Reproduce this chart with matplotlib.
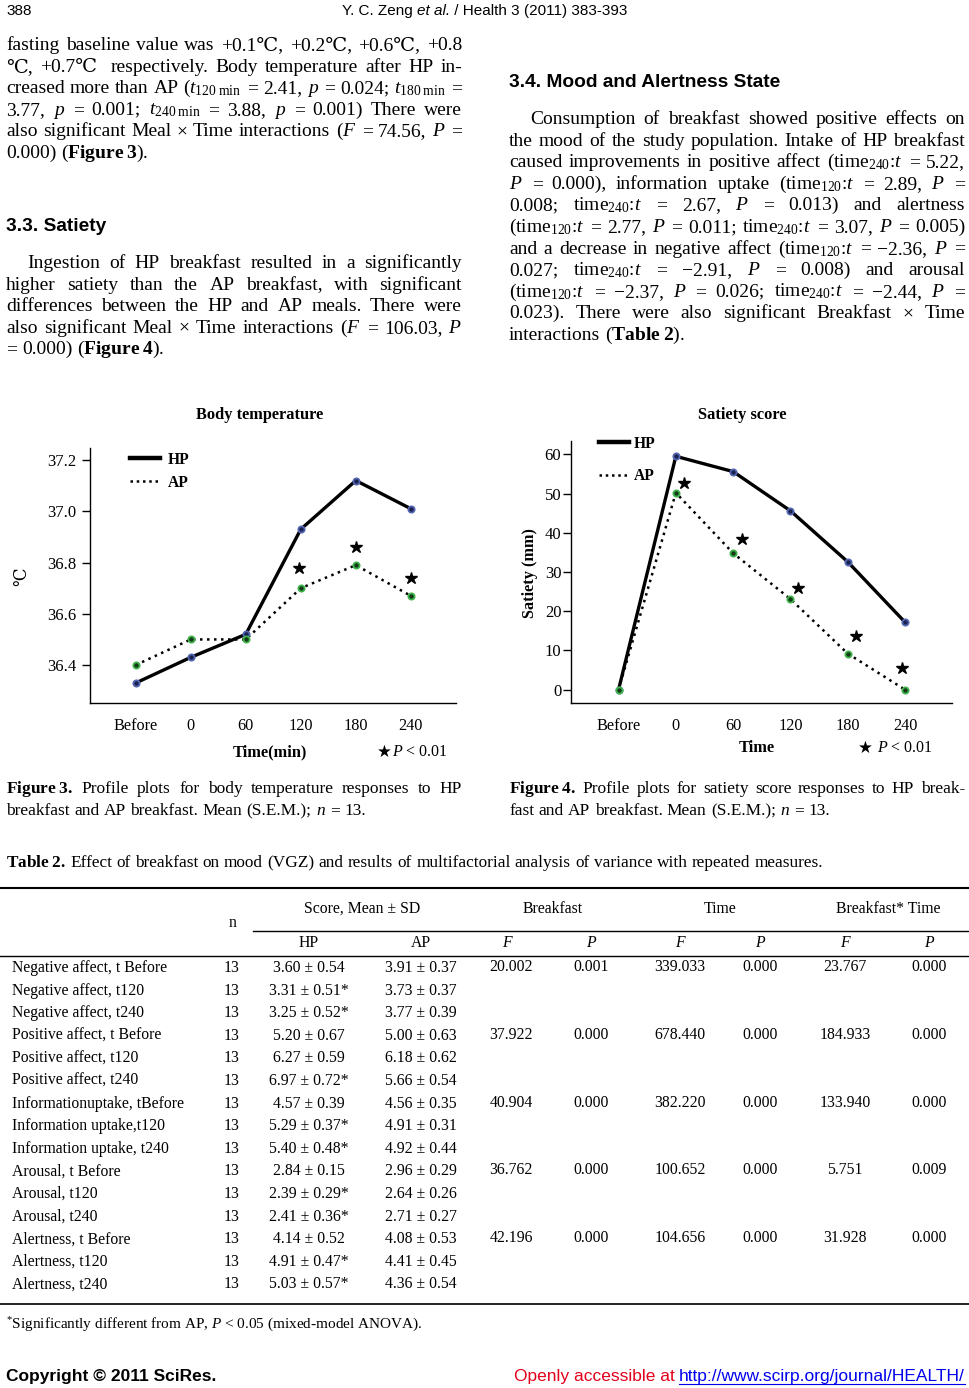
import numpy as np
import matplotlib
matplotlib.use('Agg')
import matplotlib.pyplot as plt
from matplotlib.lines import Line2D

# fonts: Times-like body, Arial-like headings
plt.rcParams['font.family'] = ['Liberation Serif', 'DejaVu Serif']
plt.rcParams['mathtext.fontset'] = 'custom'
plt.rcParams['mathtext.rm'] = 'Liberation Serif'
plt.rcParams['mathtext.it'] = 'Liberation Serif:italic'
plt.rcParams['mathtext.bf'] = 'Liberation Serif:bold'

# chart data
time_labels = ['Before', '0', '60', '120', '180', '240']
temp_hp = [36.33, 36.43, 36.52, 36.93, 37.12, 37.01]
temp_ap = [36.40, 36.50, 36.50, 36.70, 36.79, 36.67]
temp_star = [36.78, 36.86, 36.74]          # 120, 180, 240 min
sat_hp = [0, 59.5, 55.6, 45.6, 32.6, 17.2]
sat_ap = [0, 50.2, 34.8, 23.1, 9.2, 0]
sat_star = [52.7, 38.3, 25.8, 13.6, 5.5]    # 0 .. 240 min

# table data
row_labels = ['Negative affect, t Before', 'Negative affect, t120', 'Negative affect, t240',
              'Positive affect, t Before', 'Positive affect, t120', 'Positive affect, t240',
              'Informationuptake, tBefore', 'Information uptake,t120', 'Information uptake, t240',
              'Arousal, t Before', 'Arousal, t120', 'Arousal, t240',
              'Alertness, t Before', 'Alertness, t120', 'Alertness, t240']
n_vals = [13] * 15
hp_vals = ['3.60 ± 0.54', '3.31 ± 0.51*', '3.25 ± 0.52*',
           '5.20 ± 0.67', '6.27 ± 0.59', '6.97 ± 0.72*',
           '4.57 ± 0.39', '5.29 ± 0.37*', '5.40 ± 0.48*',
           '2.84 ± 0.15', '2.39 ± 0.29*', '2.41 ± 0.36*',
           '4.14 ± 0.52', '4.91 ± 0.47*', '5.03 ± 0.57*']
ap_vals = ['3.91 ± 0.37', '3.73 ± 0.37', '3.77 ± 0.39',
           '5.00 ± 0.63', '6.18 ± 0.62', '5.66 ± 0.54',
           '4.56 ± 0.35', '4.91 ± 0.31', '4.92 ± 0.44',
           '2.96 ± 0.29', '2.64 ± 0.26', '2.71 ± 0.27',
           '4.08 ± 0.53', '4.41 ± 0.45', '4.36 ± 0.54']
breakfast_F = ['20.002', '37.922', '40.904', '36.762', '42.196']
breakfast_P = ['0.001', '0.000', '0.000', '0.000', '0.000']
time_F = ['339.033', '678.440', '382.220', '100.652', '104.656']
time_P = ['0.000', '0.000', '0.000', '0.000', '0.000']
bt_F = ['23.767', '184.933', '133.940', '5.751', '31.928']
bt_P = ['0.000', '0.000', '0.000', '0.009', '0.000']

W, H = 969, 1388
fig = plt.figure(figsize=(W / 100, H / 100), dpi=100)
renderer = fig.canvas.get_renderer()


def fx(x):
    return x / W


def fy(y):
    return 1 - y / H


def put_line(words, x0, x1, y, justify=True, size=14, **kw):
    """place words on one line, spread to fill x0..x1 when justify"""
    items = [fig.text(fx(x0), fy(y), w, fontsize=size, va='baseline', **kw) for w in words]
    widths = [t.get_window_extent(renderer).width if t.get_text() else 0 for t in items]
    if justify and len(items) > 1:
        gap = (x1 - x0 - sum(widths)) / (len(items) - 1)
    else:
        gap = size * 100 / 72 * 0.25
    x = x0
    for t, w in zip(items, widths):
        t.set_x(fx(x))
        x += w + gap


def paragraph(lines, x0, x1, y0, step=21.6, indent=0, size=14, justify_last=False):
    for i, line in enumerate(lines):
        last = i == len(lines) - 1
        put_line(line.split(' '), x0 + (indent if i == 0 else 0), x1, y0 + i * step,
                 justify=(not last) or justify_last, size=size)


def put_runs(runs, x, y, ha='left', **kw):
    texts = [fig.text(0, fy(y), s, va='baseline', **{**kw, **st}) for s, st in runs]
    widths = [t.get_window_extent(renderer).width for t in texts]
    if ha == 'center':
        x -= sum(widths) / 2
    elif ha == 'right':
        x -= sum(widths)
    start = x
    for t, w in zip(texts, widths):
        t.set_x(fx(x))
        x += w
    return start, widths


sans = ['Liberation Sans', 'DejaVu Sans']

# running header
fig.text(fx(6), fy(15), '388', family=sans, fontsize=11, va='baseline')
put_runs([('Y. C. Zeng ', {}), ('et al.', {'style': 'italic'}),
          (' / Health 3 (2011) 383-393', {})], 485, 15, ha='center', family=sans, fontsize=11)

# left column text
paragraph(['fasting baseline value was +0.1℃, +0.2℃, +0.6℃, +0.8',
           '℃, +0.7℃  respectively. Body temperature after HP in-',
           r'creased more than AP ($t_{120\;\mathrm{min}}$ = 2.41, $p$ = 0.024; $t_{180\;\mathrm{min}}$ =',
           r'3.77, $p$ = 0.001; $t_{240\;\mathrm{min}}$ = 3.88, $p$ = 0.001) There were',
           r'also significant Meal × Time interactions ($F$ = 74.56, $P$ =',
           r'0.000) ($\mathbf{Figure\;3}$).'], 6, 462, 50)
fig.text(fx(6), fy(231), '3.3. Satiety', family=sans, fontsize=13.8, weight='bold', va='baseline')
paragraph(['Ingestion of HP breakfast resulted in a significantly',
           'higher satiety than the AP breakfast, with significant',
           'differences between the HP and AP meals. There were',
           r'also significant Meal × Time interactions ($F$ = 106.03, $P$',
           r'= 0.000) ($\mathbf{Figure\;4}$).'], 6, 462, 268, indent=21)

# right column text
fig.text(fx(509), fy(87), '3.4. Mood and Alertness State', family=sans, fontsize=13.8,
         weight='bold', va='baseline')
paragraph(['Consumption of breakfast showed positive effects on',
           'the mood of the study population. Intake of HP breakfast',
           r'caused improvements in positive affect (time$_{240}$:$t$ = 5.22,',
           r'$P$ = 0.000), information uptake (time$_{120}$:$t$ = 2.89, $P$ =',
           r'0.008; time$_{240}$:$t$ = 2.67, $P$ = 0.013) and alertness',
           r'(time$_{120}$:$t$ = 2.77, $P$ = 0.011; time$_{240}$:$t$ = 3.07, $P$ = 0.005)',
           r'and a decrease in negative affect (time$_{120}$:$t$ = −2.36, $P$ =',
           r'0.027; time$_{240}$:$t$ = −2.91, $P$ = 0.008) and arousal',
           r'(time$_{120}$:$t$ = −2.37, $P$ = 0.026; time$_{240}$:$t$ = −2.44, $P$ =',
           '0.023). There were also significant Breakfast × Time',
           r'interactions ($\mathbf{Table\;2}$).'], 509, 965, 124, indent=21)

# ---- Figure 3: body temperature ----
x = np.arange(len(time_labels))
ax1 = fig.add_axes([fx(90), fy(703), 366 / W, 255 / H])
ax1.plot(x, temp_hp, color='black', lw=2.4, zorder=2)
ax1.plot(x, temp_ap, color='black', lw=1.8, ls=(0, (1, 1.8)), zorder=2)
ax1.plot(x, temp_hp, 'o', ms=4.5, mfc='#1c2250', mec='#5366b2', mew=1.3, zorder=3)
ax1.plot(x, temp_ap, 'o', ms=4.5, mfc='#143a18', mec='#41b34c', mew=1.3, zorder=3)
ax1.plot(x[3:] + np.array([-0.04, 0, 0]), temp_star, '*', ms=9, color='black', ls='none')
ax1.set_xlim(-0.83, 5.82)
ax1.set_ylim(36.252, 37.247)
ax1.set_yticks([36.4, 36.6, 36.8, 37.0, 37.2])
ax1.set_yticklabels(['36.4', '36.6', '36.8', '37.0', '37.2'])

# ---- Figure 4: satiety ----
ax2 = fig.add_axes([fx(571), fy(703), 381 / W, 262 / H])
ax2.plot(x, sat_hp, color='black', lw=2.4, zorder=2)
ax2.plot(x, sat_ap, color='black', lw=1.8, ls=(0, (1, 1.8)), zorder=2)
ax2.plot(x, sat_hp, 'o', ms=4.5, mfc='#1c2250', mec='#5366b2', mew=1.3, zorder=3)
ax2.plot(x, sat_ap, 'o', ms=4.5, mfc='#143a18', mec='#41b34c', mew=1.3, zorder=3)
ax2.plot(x[1:] + np.array([0.15, 0.15, 0.14, 0.14, -0.05]), sat_star, '*', ms=9,
         color='black', ls='none')
ax2.set_xlim(-0.83, 5.82)
ax2.set_ylim(-3.4, 63.4)
ax2.set_yticks([0, 10, 20, 30, 40, 50, 60])

for ax, pad in [(ax1, 3.5), (ax2, 1)]:
    ax.set_xticks(x)
    ax.set_xticklabels(time_labels)
    ax.spines['top'].set_visible(False)
    ax.spines['right'].set_visible(False)
    ax.spines['left'].set_linewidth(1.0)
    ax.spines['bottom'].set_linewidth(1.0)
    ax.tick_params(axis='y', direction='out', length=6, width=1.0, labelsize=12, pad=pad)
    ax.tick_params(axis='x', length=0, labelsize=11.7, pad=11)
    ax.set_facecolor('none')

handles = [Line2D([], [], color='black', lw=3.2), Line2D([], [], color='black', lw=1.8, ls=(0, (1, 1.5)))]
ax1.legend(handles, ['HP', 'AP'], loc='upper left', bbox_to_anchor=(0.109, 0.985), frameon=False,
           handlelength=1.95, handletextpad=0.5, labelspacing=0.45, borderpad=0, borderaxespad=0,
           prop={'weight': 'bold', 'size': 11.2})
ax2.legend(handles, ['HP', 'AP'], loc='upper left', bbox_to_anchor=(0.073, 1.02), frameon=False,
           handlelength=1.95, handletextpad=0.3, labelspacing=1.05, borderpad=0, borderaxespad=0,
           prop={'weight': 'bold', 'size': 11.2})

fig.text(fx(260), fy(415), 'Body temperature', fontsize=11.8, weight='bold', ha='center', va='center')
fig.text(fx(742), fy(415), 'Satiety score', fontsize=11.8, weight='bold', ha='center', va='center')
fig.text(fx(22), fy(577), '℃', fontsize=12, rotation=90, ha='center', va='center')
fig.text(fx(530), fy(573), 'Satiety (mm)', fontsize=11.7, weight='bold', rotation=90,
         ha='center', va='center')
fig.text(fx(270), fy(752), 'Time(min)', fontsize=11.8, weight='bold', ha='center', va='center')
fig.text(fx(757), fy(748), 'Time', fontsize=11.8, weight='bold', ha='center', va='center')
# significance keys: star glyph from DejaVu, rest in Times-like font
fig.text(fx(384), fy(752), '★', family='DejaVu Sans', fontsize=12, ha='center', va='center')
fig.text(fx(392), fy(752), '$P$ < 0.01', fontsize=11.5, ha='left', va='center')
fig.text(fx(865), fy(748), '★', family='DejaVu Sans', fontsize=12, ha='center', va='center')
fig.text(fx(877), fy(748), '$P$ < 0.01', fontsize=11.5, ha='left', va='center')

# figure captions
put_line(r'$\mathbf{Figure\;3.}$ Profile plots for body temperature responses to HP'.split(' '),
         6, 462, 793, size=12.5)
put_line(r'breakfast and AP breakfast. Mean (S.E.M.); $n$ = 13.'.split(' '), 6, 462, 815,
         justify=False, size=12.5)
put_line(r'$\mathbf{Figure\;4.}$ Profile plots for satiety score responses to HP break-'.split(' '),
         509, 965, 793, size=12.5)
put_line(r'fast and AP breakfast. Mean (S.E.M.); $n$ = 13.'.split(' '), 509, 965, 815,
         justify=False, size=12.5)
put_line(r'$\mathbf{Table\;2.}$ Effect of breakfast on mood (VGZ) and results of multifactorial '
         r'analysis of variance with repeated measures.'.split(' '), 6, 965, 867, justify=False, size=12.4)

# ---- Table 2 ----
tsize = 11.3
for yy, x0, x1, lw in [(888, 0, W, 1.5), (931, 253, W, 1.0), (956, 0, W, 1.0), (1304, 0, W, 1.2)]:
    fig.add_artist(Line2D([fx(x0), fx(x1)], [fy(yy), fy(yy)], color='black', lw=lw))

fig.text(fx(233), fy(923), 'n', fontsize=tsize, ha='center', va='center')
for label, cx in [('Score, Mean ± SD', 362), ('Breakfast', 553), ('Time', 720), ('Breakfast* Time', 888)]:
    fig.text(fx(cx), fy(909), label, fontsize=tsize, ha='center', va='center')
for label, cx, st in [('HP', 309, 'normal'), ('AP', 421, 'normal'), ('F', 507, 'italic'),
                      ('P', 591, 'italic'), ('F', 680, 'italic'), ('P', 760, 'italic'),
                      ('F', 845, 'italic'), ('P', 929, 'italic')]:
    fig.text(fx(cx), fy(943), label, fontsize=tsize, ha='center', va='center', style=st)

for i in range(len(row_labels)):
    yy = 968 + 22.6 * i
    fig.text(fx(12), fy(yy), row_labels[i], fontsize=tsize, ha='left', va='center')
    fig.text(fx(232), fy(yy), str(n_vals[i]), fontsize=tsize, ha='center', va='center')
    fig.text(fx(309), fy(yy), hp_vals[i], fontsize=tsize, ha='center', va='center')
    fig.text(fx(421), fy(yy), ap_vals[i], fontsize=tsize, ha='center', va='center')
    if i % 3 == 0:
        g = i // 3
        for val, cx in [(breakfast_F[g], 511), (breakfast_P[g], 591), (time_F[g], 680),
                        (time_P[g], 760), (bt_F[g], 845), (bt_P[g], 929)]:
            fig.text(fx(cx), fy(yy - 1), val, fontsize=tsize, ha='center', va='center')

fig.text(fx(6), fy(1329), r'$^{*}$Significantly different from AP, $P$ < 0.05 (mixed-model ANOVA).',
         fontsize=11, va='baseline')

# footer
fig.text(fx(6), fy(1381), 'Copyright © 2011 SciRes.', family=sans, fontsize=12.5, weight='bold',
         va='baseline')
start, widths = put_runs([('Openly accessible at ', {'color': '#e3001b'}),
                          ('http://www.scirp.org/journal/HEALTH/', {'color': '#0000ee'})],
                         965, 1381, ha='right', family=sans, fontsize=12.5)
link_x0 = start + widths[0]
fig.add_artist(Line2D([fx(link_x0), fx(965)], [fy(1384), fy(1384)], color='#0000ee', lw=0.8))

fig.savefig('out.png', dpi=100)
